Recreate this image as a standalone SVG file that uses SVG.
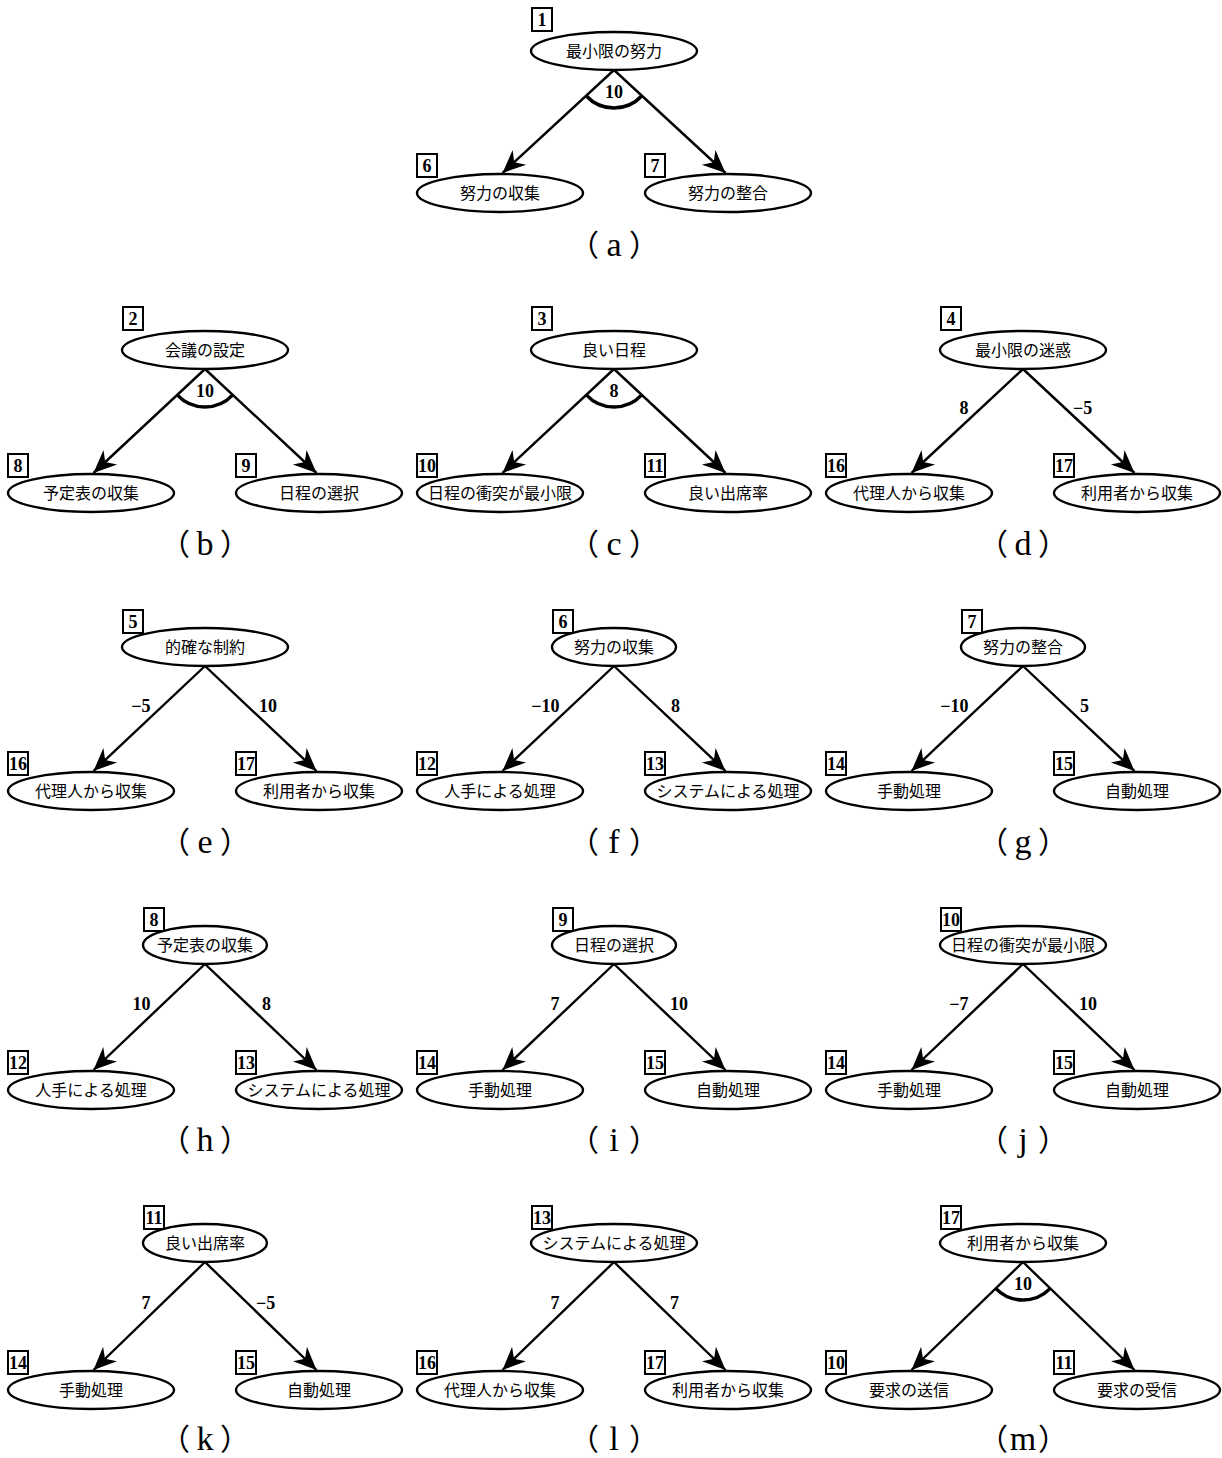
<svg xmlns="http://www.w3.org/2000/svg" width="1222" height="1458" viewBox="0 0 1222 1458">
<defs>
<style>
.n ellipse{fill:#fff;stroke:#000;stroke-width:2.4}
.n rect{fill:#fff;stroke:#000;stroke-width:2}
.t{font-family:"Noto Sans CJK JP","Noto Sans",sans-serif;font-size:16px;text-anchor:middle;fill:#000}
.num{font-family:"Liberation Serif",serif;font-weight:bold;font-size:18px;text-anchor:middle;fill:#000}
.e{fill:none;stroke:#000;stroke-width:2.4;marker-end:url(#ah)}
.arc{fill:none;stroke:#000;stroke-width:3.5}
.w{font-family:"Liberation Serif",serif;font-weight:bold;font-size:18px;fill:#000}
.wm{text-anchor:middle}.we{text-anchor:end}.ws{text-anchor:start}
.cap{font-family:"Noto Sans CJK JP",sans-serif;font-size:30px;text-anchor:middle;fill:#000}
.capl{font-family:"Liberation Serif",serif;font-size:34px}
</style>
<marker id="ah" markerUnits="userSpaceOnUse" viewBox="-25 -12 27 24" markerWidth="27" markerHeight="24" refX="0" refY="0" orient="auto" overflow="visible">
<path d="M0,0 L-23,-10 L-16,0 L-23,10 Z" fill="#000"/>
</marker>
</defs>
<rect width="1222" height="1458" fill="#fff"/>

<g id="connectors">
<!-- a -->
<path class="e" d="M614,70 L502.5,173"/><path class="e" d="M614,70 L725.5,173"/>
<path class="arc" d="M586.1,95.8 A38,38 0 0 0 641.9,95.8"/>
<text class="w wm" x="614" y="97.5">10</text>
<!-- b -->
<path class="e" d="M205,369 L93.5,473"/><path class="e" d="M205,369 L316.5,473"/>
<path class="arc" d="M177.2,394.9 A38,38 0 0 0 232.8,394.9"/>
<text class="w wm" x="205" y="397">10</text>
<!-- c -->
<path class="e" d="M614,369 L502.5,473"/><path class="e" d="M614,369 L725.5,473"/>
<path class="arc" d="M586.2,394.9 A38,38 0 0 0 641.8,394.9"/>
<text class="w wm" x="614" y="397">8</text>
<!-- d -->
<path class="e" d="M1023,369 L911.5,473"/><path class="e" d="M1023,369 L1134.5,473"/>
<text class="w we" x="968.5" y="414">8</text><text class="w ws" x="1073" y="414">−5</text>
<!-- e -->
<path class="e" d="M205,666 L93.5,771"/><path class="e" d="M205,666 L316.5,771"/>
<text class="w we" x="150.5" y="712">−5</text><text class="w ws" x="259" y="712">10</text>
<!-- f -->
<path class="e" d="M614,666 L502.5,771"/><path class="e" d="M614,666 L725.5,771"/>
<text class="w we" x="559.5" y="712">−10</text><text class="w ws" x="671" y="712">8</text>
<!-- g -->
<path class="e" d="M1023,666 L911.5,771"/><path class="e" d="M1023,666 L1134.5,771"/>
<text class="w we" x="968.5" y="712">−10</text><text class="w ws" x="1080" y="712">5</text>
<!-- h -->
<path class="e" d="M205,964 L93.5,1070"/><path class="e" d="M205,964 L316.5,1070"/>
<text class="w we" x="150.5" y="1010">10</text><text class="w ws" x="262" y="1010">8</text>
<!-- i -->
<path class="e" d="M614,964 L502.5,1070"/><path class="e" d="M614,964 L725.5,1070"/>
<text class="w we" x="559.5" y="1010">7</text><text class="w ws" x="670" y="1010">10</text>
<!-- j -->
<path class="e" d="M1023,964 L911.5,1070"/><path class="e" d="M1023,964 L1134.5,1070"/>
<text class="w we" x="968.5" y="1010">−7</text><text class="w ws" x="1079" y="1010">10</text>
<!-- k -->
<path class="e" d="M205,1262 L93.5,1370"/><path class="e" d="M205,1262 L316.5,1370"/>
<text class="w we" x="150.5" y="1309">7</text><text class="w ws" x="256" y="1309">−5</text>
<!-- l -->
<path class="e" d="M614,1262 L502.5,1370"/><path class="e" d="M614,1262 L725.5,1370"/>
<text class="w we" x="559.5" y="1309">7</text><text class="w ws" x="670" y="1309">7</text>
<!-- m -->
<path class="e" d="M1023,1262 L911.5,1370"/><path class="e" d="M1023,1262 L1134.5,1370"/>
<path class="arc" d="M995.7,1288.4 A38,38 0 0 0 1050.3,1288.4"/>
<text class="w wm" x="1023" y="1290">10</text>
</g>

<!-- (a) -->
<g id="a-n1" class="n"><ellipse cx="614" cy="51" rx="83" ry="19"/><rect x="532" y="8" width="20" height="23"/><text class="num" x="542" y="26">1</text><text class="t" x="614" y="57">最小限の努力</text></g>
<g id="a-n6" class="n"><ellipse cx="500" cy="193" rx="83" ry="19"/><rect x="417" y="154" width="20" height="23"/><text class="num" x="427" y="172">6</text><text class="t" x="500" y="199">努力の収集</text></g>
<g id="a-n7" class="n"><ellipse cx="728" cy="193" rx="83" ry="19"/><rect x="645" y="154" width="20" height="23"/><text class="num" x="655" y="172">7</text><text class="t" x="728" y="199">努力の整合</text></g>

<!-- (b) -->
<g id="b-n2" class="n"><ellipse cx="205" cy="350" rx="83" ry="19"/><rect x="123" y="307" width="20" height="23"/><text class="num" x="133" y="325">2</text><text class="t" x="205" y="356">会議の設定</text></g>
<g id="b-n8" class="n"><ellipse cx="91" cy="493" rx="83" ry="19"/><rect x="8" y="454" width="20" height="23"/><text class="num" x="18" y="472">8</text><text class="t" x="91" y="499">予定表の収集</text></g>
<g id="b-n9" class="n"><ellipse cx="319" cy="493" rx="83" ry="19"/><rect x="236" y="454" width="20" height="23"/><text class="num" x="246" y="472">9</text><text class="t" x="319" y="499">日程の選択</text></g>

<!-- (c) -->
<g id="c-n3" class="n"><ellipse cx="614" cy="350" rx="83" ry="19"/><rect x="532" y="307" width="20" height="23"/><text class="num" x="542" y="325">3</text><text class="t" x="614" y="356">良い日程</text></g>
<g id="c-n10" class="n"><ellipse cx="500" cy="493" rx="83" ry="19"/><rect x="417" y="454" width="20" height="23"/><text class="num" x="427" y="472">10</text><text class="t" x="500" y="499">日程の衝突が最小限</text></g>
<g id="c-n11" class="n"><ellipse cx="728" cy="493" rx="83" ry="19"/><rect x="645" y="454" width="20" height="23"/><text class="num" x="655" y="472">11</text><text class="t" x="728" y="499">良い出席率</text></g>

<!-- (d) -->
<g id="d-n4" class="n"><ellipse cx="1023" cy="350" rx="83" ry="19"/><rect x="941" y="307" width="20" height="23"/><text class="num" x="951" y="325">4</text><text class="t" x="1023" y="356">最小限の迷惑</text></g>
<g id="d-n16" class="n"><ellipse cx="909" cy="493" rx="83" ry="19"/><rect x="826" y="454" width="20" height="23"/><text class="num" x="836" y="472">16</text><text class="t" x="909" y="499">代理人から収集</text></g>
<g id="d-n17" class="n"><ellipse cx="1137" cy="493" rx="83" ry="19"/><rect x="1054" y="454" width="20" height="23"/><text class="num" x="1064" y="472">17</text><text class="t" x="1137" y="499">利用者から収集</text></g>

<!-- (e) -->
<g id="e-n5" class="n"><ellipse cx="205" cy="647" rx="83" ry="19"/><rect x="123" y="610" width="20" height="23"/><text class="num" x="133" y="628">5</text><text class="t" x="205" y="653">的確な制約</text></g>
<g id="e-n16" class="n"><ellipse cx="91" cy="791" rx="83" ry="19"/><rect x="8" y="752" width="20" height="23"/><text class="num" x="18" y="770">16</text><text class="t" x="91" y="797">代理人から収集</text></g>
<g id="e-n17" class="n"><ellipse cx="319" cy="791" rx="83" ry="19"/><rect x="236" y="752" width="20" height="23"/><text class="num" x="246" y="770">17</text><text class="t" x="319" y="797">利用者から収集</text></g>

<!-- (f) -->
<g id="f-n6" class="n"><ellipse cx="614" cy="647" rx="62" ry="19"/><rect x="553" y="610" width="20" height="23"/><text class="num" x="563" y="628">6</text><text class="t" x="614" y="653">努力の収集</text></g>
<g id="f-n12" class="n"><ellipse cx="500" cy="791" rx="83" ry="19"/><rect x="417" y="752" width="20" height="23"/><text class="num" x="427" y="770">12</text><text class="t" x="500" y="797">人手による処理</text></g>
<g id="f-n13" class="n"><ellipse cx="728" cy="791" rx="83" ry="19"/><rect x="645" y="752" width="20" height="23"/><text class="num" x="655" y="770">13</text><text class="t" x="728" y="797">システムによる処理</text></g>

<!-- (g) -->
<g id="g-n7" class="n"><ellipse cx="1023" cy="647" rx="62" ry="19"/><rect x="962" y="610" width="20" height="23"/><text class="num" x="972" y="628">7</text><text class="t" x="1023" y="653">努力の整合</text></g>
<g id="g-n14" class="n"><ellipse cx="909" cy="791" rx="83" ry="19"/><rect x="826" y="752" width="20" height="23"/><text class="num" x="836" y="770">14</text><text class="t" x="909" y="797">手動処理</text></g>
<g id="g-n15" class="n"><ellipse cx="1137" cy="791" rx="83" ry="19"/><rect x="1054" y="752" width="20" height="23"/><text class="num" x="1064" y="770">15</text><text class="t" x="1137" y="797">自動処理</text></g>

<!-- (h) -->
<g id="h-n8" class="n"><ellipse cx="205" cy="945" rx="62" ry="19"/><rect x="144" y="908" width="20" height="23"/><text class="num" x="154" y="926">8</text><text class="t" x="205" y="951">予定表の収集</text></g>
<g id="h-n12" class="n"><ellipse cx="91" cy="1090" rx="83" ry="19"/><rect x="8" y="1051" width="20" height="23"/><text class="num" x="18" y="1069">12</text><text class="t" x="91" y="1096">人手による処理</text></g>
<g id="h-n13" class="n"><ellipse cx="319" cy="1090" rx="83" ry="19"/><rect x="236" y="1051" width="20" height="23"/><text class="num" x="246" y="1069">13</text><text class="t" x="319" y="1096">システムによる処理</text></g>

<!-- (i) -->
<g id="i-n9" class="n"><ellipse cx="614" cy="945" rx="62" ry="19"/><rect x="553" y="908" width="20" height="23"/><text class="num" x="563" y="926">9</text><text class="t" x="614" y="951">日程の選択</text></g>
<g id="i-n14" class="n"><ellipse cx="500" cy="1090" rx="83" ry="19"/><rect x="417" y="1051" width="20" height="23"/><text class="num" x="427" y="1069">14</text><text class="t" x="500" y="1096">手動処理</text></g>
<g id="i-n15" class="n"><ellipse cx="728" cy="1090" rx="83" ry="19"/><rect x="645" y="1051" width="20" height="23"/><text class="num" x="655" y="1069">15</text><text class="t" x="728" y="1096">自動処理</text></g>

<!-- (j) -->
<g id="j-n10" class="n"><ellipse cx="1023" cy="945" rx="83" ry="19"/><rect x="941" y="908" width="20" height="23"/><text class="num" x="951" y="926">10</text><text class="t" x="1023" y="951">日程の衝突が最小限</text></g>
<g id="j-n14" class="n"><ellipse cx="909" cy="1090" rx="83" ry="19"/><rect x="826" y="1051" width="20" height="23"/><text class="num" x="836" y="1069">14</text><text class="t" x="909" y="1096">手動処理</text></g>
<g id="j-n15" class="n"><ellipse cx="1137" cy="1090" rx="83" ry="19"/><rect x="1054" y="1051" width="20" height="23"/><text class="num" x="1064" y="1069">15</text><text class="t" x="1137" y="1096">自動処理</text></g>

<!-- (k) -->
<g id="k-n11" class="n"><ellipse cx="205" cy="1243" rx="62" ry="19"/><rect x="144" y="1206" width="20" height="23"/><text class="num" x="154" y="1224">11</text><text class="t" x="205" y="1249">良い出席率</text></g>
<g id="k-n14" class="n"><ellipse cx="91" cy="1390" rx="83" ry="19"/><rect x="8" y="1351" width="20" height="23"/><text class="num" x="18" y="1369">14</text><text class="t" x="91" y="1396">手動処理</text></g>
<g id="k-n15" class="n"><ellipse cx="319" cy="1390" rx="83" ry="19"/><rect x="236" y="1351" width="20" height="23"/><text class="num" x="246" y="1369">15</text><text class="t" x="319" y="1396">自動処理</text></g>

<!-- (l) -->
<g id="l-n13" class="n"><ellipse cx="614" cy="1243" rx="83" ry="19"/><rect x="532" y="1206" width="20" height="23"/><text class="num" x="542" y="1224">13</text><text class="t" x="614" y="1249">システムによる処理</text></g>
<g id="l-n16" class="n"><ellipse cx="500" cy="1390" rx="83" ry="19"/><rect x="417" y="1351" width="20" height="23"/><text class="num" x="427" y="1369">16</text><text class="t" x="500" y="1396">代理人から収集</text></g>
<g id="l-n17" class="n"><ellipse cx="728" cy="1390" rx="83" ry="19"/><rect x="645" y="1351" width="20" height="23"/><text class="num" x="655" y="1369">17</text><text class="t" x="728" y="1396">利用者から収集</text></g>

<!-- (m) -->
<g id="m-n17" class="n"><ellipse cx="1023" cy="1243" rx="83" ry="19"/><rect x="941" y="1206" width="20" height="23"/><text class="num" x="951" y="1224">17</text><text class="t" x="1023" y="1249">利用者から収集</text></g>
<g id="m-n10" class="n"><ellipse cx="909" cy="1390" rx="83" ry="19"/><rect x="826" y="1351" width="20" height="23"/><text class="num" x="836" y="1369">10</text><text class="t" x="909" y="1396">要求の送信</text></g>
<g id="m-n11" class="n"><ellipse cx="1137" cy="1390" rx="83" ry="19"/><rect x="1054" y="1351" width="20" height="23"/><text class="num" x="1064" y="1369">11</text><text class="t" x="1137" y="1396">要求の受信</text></g>

<g id="captions">
<text class="cap" x="614" y="256">（<tspan class="capl" dx="7.5">a</tspan><tspan dx="7.5">）</tspan></text>
<text class="cap" x="205" y="555">（<tspan class="capl" dx="6.5">b</tspan><tspan dx="6.5">）</tspan></text>
<text class="cap" x="614" y="555">（<tspan class="capl" dx="7.5">c</tspan><tspan dx="7.5">）</tspan></text>
<text class="cap" x="1023" y="555">（<tspan class="capl" dx="6.5">d</tspan><tspan dx="6.5">）</tspan></text>
<text class="cap" x="205" y="853">（<tspan class="capl" dx="7.5">e</tspan><tspan dx="7.5">）</tspan></text>
<text class="cap" x="614" y="853">（<tspan class="capl" dx="9.4">f</tspan><tspan dx="9.4">）</tspan></text>
<text class="cap" x="1023" y="853">（<tspan class="capl" dx="6.5">g</tspan><tspan dx="6.5">）</tspan></text>
<text class="cap" x="205" y="1151">（<tspan class="capl" dx="6.5">h</tspan><tspan dx="6.5">）</tspan></text>
<text class="cap" x="614" y="1151">（<tspan class="capl" dx="10.3">i</tspan><tspan dx="10.3">）</tspan></text>
<text class="cap" x="1023" y="1151">（<tspan class="capl" dx="10.3">j</tspan><tspan dx="10.3">）</tspan></text>
<text class="cap" x="205" y="1450">（<tspan class="capl" dx="6.5">k</tspan><tspan dx="6.5">）</tspan></text>
<text class="cap" x="614" y="1450">（<tspan class="capl" dx="10.3">l</tspan><tspan dx="10.3">）</tspan></text>
<text class="cap" x="1023" y="1450">（<tspan class="capl" dx="1.8">m</tspan><tspan dx="1.8">）</tspan></text>
</g>
</svg>
